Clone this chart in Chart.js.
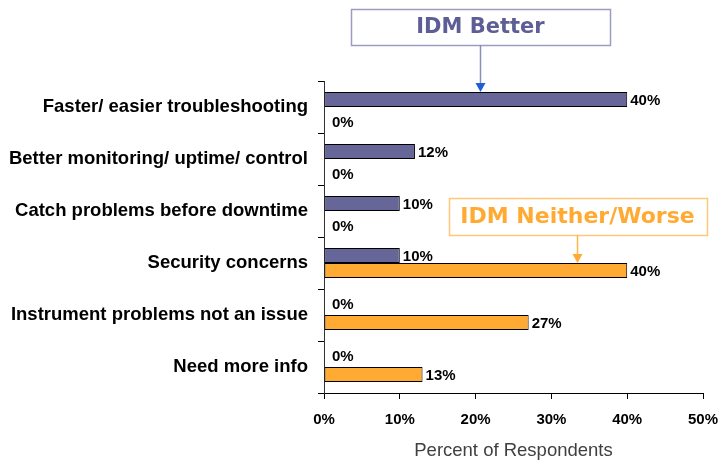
<!DOCTYPE html>
<html>
<head>
<meta charset="utf-8">
<script src="https://cdn.jsdelivr.net/npm/chart.js@4/dist/chart.umd.min.js"></script>
<style>
  html, body { margin: 0; padding: 0; background: #ffffff; }
  #wrap { width: 719px; height: 461px; position: relative; }
</style>
</head>
<body>
<div id="wrap"><canvas id="c" width="719" height="461"></canvas></div>
<script>
// Reasons given by respondents
const categories = [
  'Faster/ easier troubleshooting',
  'Better monitoring/ uptime/ control',
  'Catch problems before downtime',
  'Security concerns',
  'Instrument problems not an issue',
  'Need more info'
];
// Percent of respondents per group
const idmBetter = [40, 12, 10, 10, 0, 0];
const idmNeitherWorse = [0, 0, 0, 40, 27, 13];
const xTicks = [0, 10, 20, 30, 40, 50];

const BLUE = '#666699';
const ORANGE = '#FFAA33';

// Percentage labels at the end of each bar; empty bars get their label nudged clear of the neighbour
const valueLabels = {
  id: 'valueLabels',
  afterDatasetsDraw(chart) {
    const ctx = chart.ctx;
    ctx.save();
    ctx.font = 'bold 15px "Liberation Sans", Arial, sans-serif';
    ctx.fillStyle = '#000';
    ctx.textBaseline = 'middle';
    ctx.textAlign = 'left';
    chart.data.datasets.forEach((ds, di) => {
      const meta = chart.getDatasetMeta(di);
      meta.data.forEach((bar, i) => {
        const v = ds.data[i];
        let x = bar.x + 3, y = bar.y + 1;
        if (v === 0) {
          x = bar.x + 8;
          y += di === 0 ? -4 : 7;
        }
        ctx.fillText(v + '%', x, y);
      });
    });
    ctx.restore();
  }
};

// Callout boxes with arrows pointing at the first bar of each group
const callouts = {
  id: 'callouts',
  afterDraw(chart) {
    const ctx = chart.ctx;
    const xs = chart.scales.x;
    const items = [
      { text: 'IDM Better', at: 20.6, ds: 0, idx: 0, top: 9, bottom: 45, w: 259, size: 21,
        color: '#5E5E96', border: '#9C9CC2', line: '#8C8CBC', head: '#1E5FD8' },
      { text: 'IDM Neither/Worse', at: 33.4, ds: 1, idx: 3, top: 198, bottom: 235, w: 258, size: 22,
        color: '#FFAA33', border: '#FFC878', line: '#FFB54D', head: '#FFAA33' }
    ];
    ctx.save();
    items.forEach(it => {
      const cx = Math.round(xs.getPixelForValue(it.at)) + 0.5;
      const bar = chart.getDatasetMeta(it.ds).data[it.idx];
      const tipY = bar.y - bar.height / 2;
      // box
      ctx.fillStyle = '#fff';
      ctx.fillRect(cx - it.w / 2, it.top, it.w, it.bottom - it.top);
      ctx.strokeStyle = it.border;
      ctx.lineWidth = 1.5;
      ctx.strokeRect(Math.round(cx - it.w / 2) + 0.5, it.top + 0.5, it.w, it.bottom - it.top);
      // text
      ctx.fillStyle = it.color;
      ctx.font = 'bold ' + it.size + 'px "DejaVu Sans", Verdana, sans-serif';
      ctx.textAlign = 'center';
      ctx.textBaseline = 'middle';
      ctx.fillText(it.text, cx, (it.top + it.bottom) / 2 + 1);
      // arrow shaft
      ctx.strokeStyle = it.line;
      ctx.lineWidth = 1.5;
      ctx.beginPath();
      ctx.moveTo(cx, it.bottom);
      ctx.lineTo(cx, tipY - 7);
      ctx.stroke();
      // arrow head
      ctx.fillStyle = it.head;
      ctx.beginPath();
      ctx.moveTo(cx - 5, tipY - 9);
      ctx.lineTo(cx + 5, tipY - 9);
      ctx.lineTo(cx, tipY);
      ctx.closePath();
      ctx.fill();
    });
    ctx.restore();
  }
};

new Chart(document.getElementById('c'), {
  type: 'bar',
  data: {
    labels: categories,
    datasets: [
      { label: 'IDM Better', data: idmBetter, backgroundColor: BLUE,
        borderColor: '#000', borderWidth: 1, borderSkipped: false },
      { label: 'IDM Neither/Worse', data: idmNeitherWorse, backgroundColor: ORANGE,
        borderColor: '#000', borderWidth: 1, borderSkipped: false }
    ]
  },
  options: {
    indexAxis: 'y',
    responsive: false,
    animation: false,
    categoryPercentage: 0.58,
    barPercentage: 1.0,
    layout: { padding: { top: 81, right: 16, left: 0, bottom: 0 } },
    plugins: {
      legend: { display: false },
      tooltip: { enabled: false }
    },
    scales: {
      x: {
        min: 0, max: 50,
        afterBuildTicks(scale) { scale.ticks = xTicks.map(v => ({ value: v })); },
        afterFit(scale) {
          scale.height = 68;
          scale.paddingLeft = 0;
          scale.paddingRight = 0;
        },
        grid: { display: true, drawOnChartArea: false, drawTicks: true, tickLength: 6, color: '#000', lineWidth: 1 },
        border: { display: true, color: '#000', width: 1 },
        ticks: {
          padding: 12,
          color: '#000',
          font: { family: '"Liberation Sans", Arial, sans-serif', size: 15, weight: 'bold' },
          callback: v => v + '%'
        },
        title: {
          display: true,
          text: 'Percent of Respondents',
          color: '#404040',
          font: { family: '"Liberation Sans", Arial, sans-serif', size: 18.5, weight: 'normal' },
          padding: { top: 0, bottom: -1 }
        }
      },
      y: {
        afterFit(scale) {
          scale.width = 324;
          scale.paddingTop = 0;
          scale.paddingBottom = 0;
        },
        grid: { display: true, offset: true, drawOnChartArea: false, drawTicks: true, tickLength: 6, color: '#000', lineWidth: 1 },
        border: { display: true, color: '#333', width: 1 },
        ticks: {
          padding: 10,
          color: '#000',
          font: { family: '"Liberation Sans", Arial, sans-serif', size: 18.5, weight: 'bold' }
        }
      }
    }
  },
  plugins: [valueLabels, callouts]
});
</script>
</body>
</html>
